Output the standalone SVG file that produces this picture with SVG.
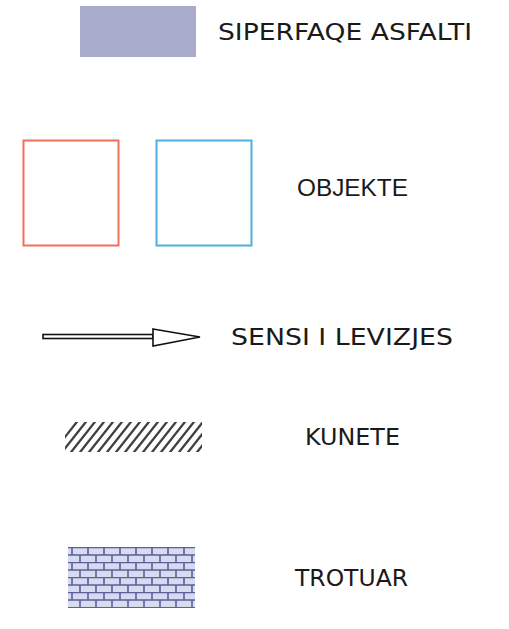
<svg xmlns="http://www.w3.org/2000/svg" width="509" height="629" viewBox="0 0 509 629">
<style>
.lbl{font-family:"DejaVu Sans","Verdana",sans-serif;font-size:22.5px;fill:#1a1a1a}
.lbl2{font-family:"Liberation Sans",Arial,sans-serif;font-size:23px;fill:#1a1a1a}
.hatch line{stroke:#404040;stroke-width:2.3}
</style>
<defs>
<clipPath id="hclip"><rect x="65" y="422" width="137" height="30"/></clipPath>
<pattern id="brick" x="68" y="547" width="16" height="15" patternUnits="userSpaceOnUse">
<rect width="16" height="15" fill="#d8dbee"/>
<path d="M0 0.5H16M0 8H16M4 0V8M12 8V15" stroke="#5a609a" stroke-width="1.6" fill="none"/>
</pattern>
</defs>
<rect width="509" height="629" fill="#ffffff"/>
<g id="asfalt">
<rect x="80" y="6" width="116" height="51" fill="#a9abcc"/>
<text class="lbl" x="218" y="40" textLength="254" lengthAdjust="spacingAndGlyphs">SIPERFAQE ASFALTI</text>
</g>
<g id="objekte">
<rect x="23.5" y="140.5" width="95" height="105" fill="none" stroke="#f07060" stroke-width="2"/>
<rect x="156.5" y="140.5" width="95" height="105" fill="none" stroke="#4db0e0" stroke-width="2"/>
<text class="lbl2" x="297" y="196" textLength="111" lengthAdjust="spacingAndGlyphs">OBJEKTE</text>
</g>
<g id="sensi">
<rect x="43" y="334.5" width="110" height="4" fill="#ffffff" stroke="#111" stroke-width="1.6"/>
<polygon points="153,329 200,337 153,346" fill="#ffffff" stroke="#111" stroke-width="1.6" stroke-linejoin="miter"/>
<text class="lbl" x="231" y="345" textLength="222" lengthAdjust="spacingAndGlyphs">SENSI I LEVIZJES</text>
</g>
<g id="kunete">
<g class="hatch" clip-path="url(#hclip)">
<line x1="50" y1="456" x2="80" y2="418"/>
<line x1="59" y1="456" x2="89" y2="418"/>
<line x1="68" y1="456" x2="98" y2="418"/>
<line x1="77" y1="456" x2="107" y2="418"/>
<line x1="86" y1="456" x2="116" y2="418"/>
<line x1="95" y1="456" x2="125" y2="418"/>
<line x1="104" y1="456" x2="134" y2="418"/>
<line x1="113" y1="456" x2="143" y2="418"/>
<line x1="122" y1="456" x2="152" y2="418"/>
<line x1="131" y1="456" x2="161" y2="418"/>
<line x1="140" y1="456" x2="170" y2="418"/>
<line x1="149" y1="456" x2="179" y2="418"/>
<line x1="158" y1="456" x2="188" y2="418"/>
<line x1="167" y1="456" x2="197" y2="418"/>
<line x1="176" y1="456" x2="206" y2="418"/>
<line x1="185" y1="456" x2="215" y2="418"/>
<line x1="194" y1="456" x2="224" y2="418"/>
</g>
<text class="lbl" x="305" y="445" textLength="95" lengthAdjust="spacingAndGlyphs">KUNETE</text>
</g>
<g id="trotuar">
<rect x="68" y="547" width="127" height="61" fill="url(#brick)"/>
<text class="lbl" x="295" y="586" textLength="113" lengthAdjust="spacingAndGlyphs">TROTUAR</text>
</g>
<g id="connectors"></g>
</svg>
